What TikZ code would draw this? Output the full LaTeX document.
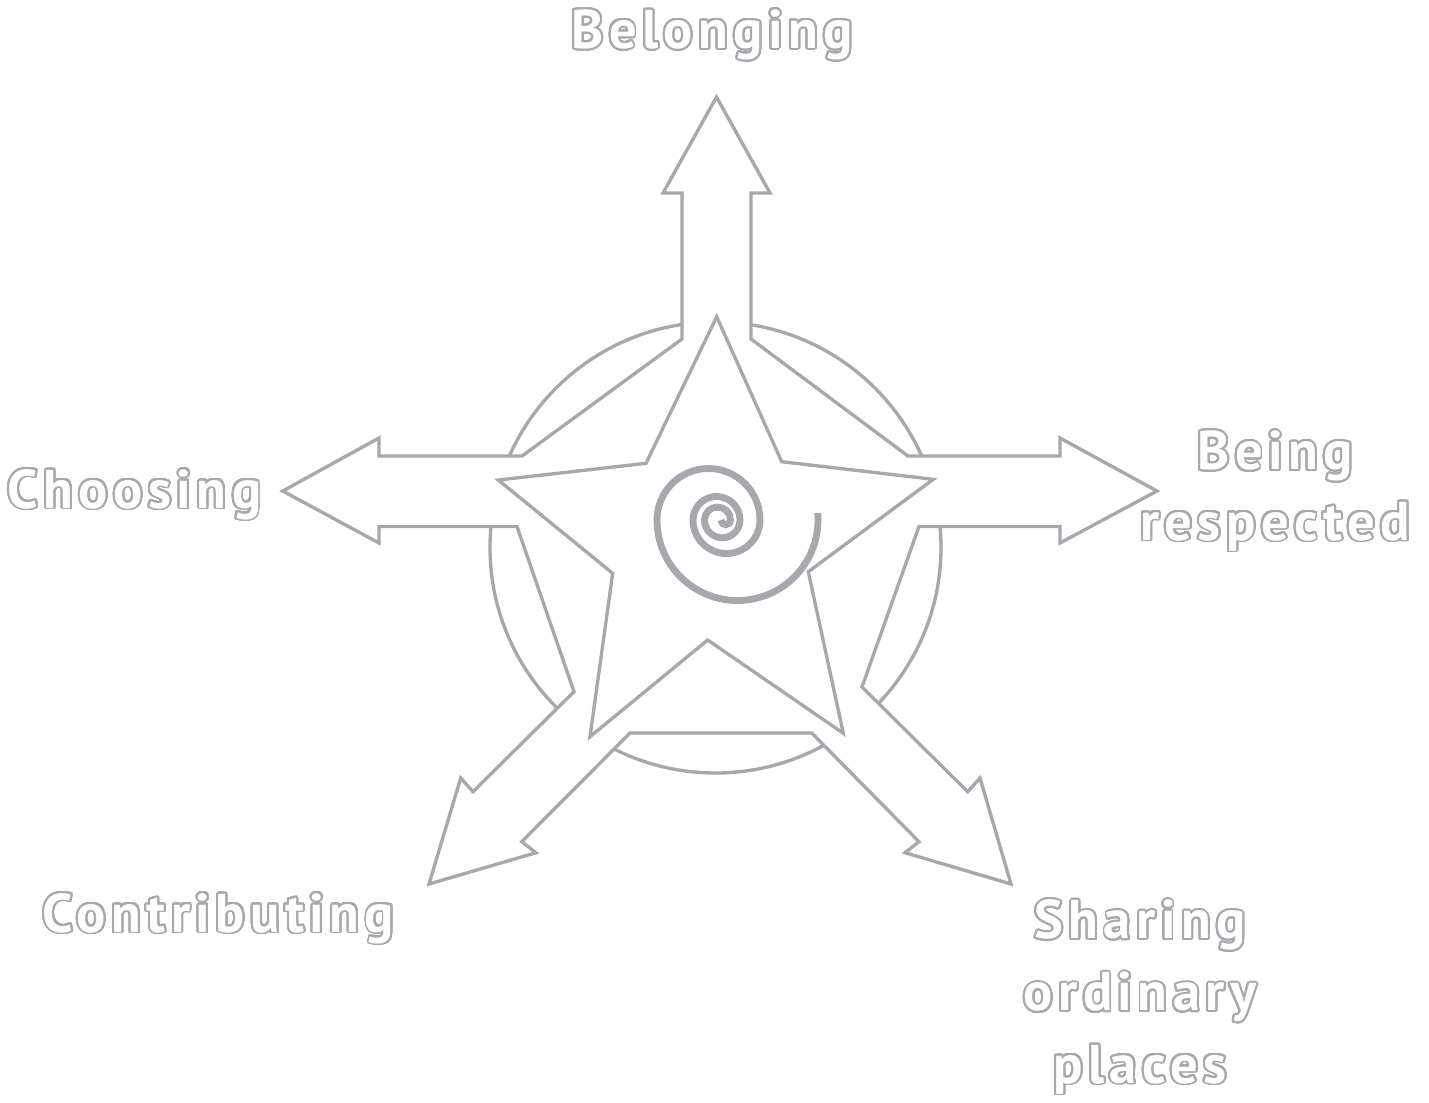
\documentclass[tikz,border=0pt]{standalone}
\usepackage{fontspec}
\usepackage{xcolor}
\usepackage{contour}
\newfontfamily\tagfont{PT Sans}[LetterSpace=10]
\definecolor{linegray}{RGB}{167,168,171}
\contourlength{0.55pt}
\contournumber{32}
\newcommand\hollow[1]{\contour{linegray}{#1}}

\begin{document}
\begin{tikzpicture}[
    x=0.01cm, y=-0.01cm,
    ring/.style={draw=linegray, line width=0.95pt},
    outline/.style={draw=linegray, line width=0.95pt, fill=white, line join=miter},
    swirl/.style={draw=linegray, line width=1.95pt},
    word/.style={font=\tagfont\bfseries\fontsize{15.5pt}{20pt}\selectfont,
        text=white, align=center, inner sep=0pt, anchor=base},
]

% ---- frame ----
\useasboundingbox (0,0) rectangle (1429,1102);

% ---- back circle ----
\coordinate (hub) at (715.5,547.5);
\draw[ring] (hub) circle[radius=225.5];

% ---- arrows (one outline) ----
\draw[outline]
    (716.5,97) -- (770,193) -- (751,193) -- (751,339)           % up
    -- (908,456) -- (1060,456) -- (1060,438) -- (1157,491)      % right
    -- (1060,543) -- (1060,526.5) -- (919,526.5)
    -- (862,687) -- (967.7,791.7) -- (980,778) -- (1011,884)    % lower right
    -- (905,852.7) -- (919,841.7) -- (811.7,733)
    -- (630,733) -- (521.7,841.7) -- (536,852.7) -- (429,884)   % lower left
    -- (460.7,778) -- (473,791.7) -- (574,691.7)
    -- (517,526.5) -- (379,526.5) -- (379,543) -- (282.7,491)   % left
    -- (379,438) -- (379,456) -- (522,456)
    -- (682,339) -- (682,193) -- (663,193) -- cycle;

% ---- star ----
\draw[outline]
    (716.7,316.7) -- (781.7,461.7) -- (933.3,479.3) -- (808.3,571.7)
    -- (843.3,733.3) -- (707.7,640) -- (590,736.7) -- (612.7,573.3)
    -- (498.3,480) -- (646,463.3) -- cycle;

% ---- spiral (half turns) ----
\coordinate (eye) at (721,520);
\draw[swirl] (eye)
    arc[start angle=180, end angle=0, radius=4.75]
    arc[start angle=0, end angle=-180, radius=13]
    arc[start angle=180, end angle=0, radius=17.75]
    arc[start angle=0, end angle=-180, radius=23.5]
    arc[start angle=180, end angle=0, radius=33.5]
    arc[start angle=0, end angle=-180, radius=51.5]
    arc[start angle=180, end angle=-5, radius=80.5];

% ---- labels ----
\node[word] (belonging) at (712,48.3) {\hollow{Belonging}};
\node[word] (respected) at (1275,540) {\hollow{Being}\\\hollow{respected}};
\node[word] (choosing) at (134.5,508) {\hollow{Choosing}};
\node[word] (contributing) at (218.5,932) {\hollow{Contributing}};
\node[word, font=\tagfont\bfseries\fontsize{15.5pt}{20.5pt}\selectfont] (sharing) at (1140,1083)
    {\hollow{Sharing}\\\hollow{ordinary}\\\hollow{places}};

\end{tikzpicture}
\end{document}
